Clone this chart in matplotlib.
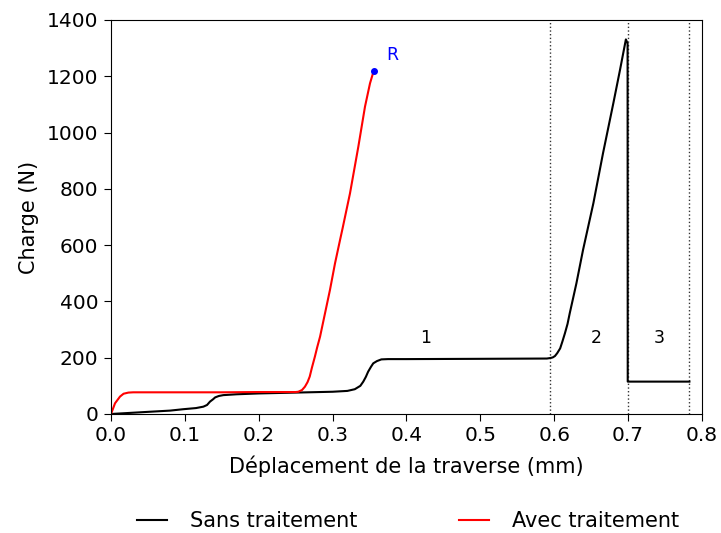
import matplotlib
matplotlib.use("Agg")
import matplotlib.pyplot as plt

# Data
x_sans = [0, 0.02, 0.053, 0.08, 0.098, 0.115, 0.125, 0.13, 0.134, 0.138, 0.141, 0.146,
          0.152, 0.17, 0.2, 0.25, 0.3, 0.32, 0.33, 0.3375, 0.3415, 0.345, 0.348, 0.352,
          0.355, 0.36, 0.366, 0.375, 0.4, 0.5, 0.59, 0.595, 0.598, 0.601, 0.604, 0.608,
          0.611, 0.6145, 0.618, 0.621, 0.625, 0.630, 0.639, 0.653, 0.666, 0.680, 0.689,
          0.697, 0.6993, 0.6995, 0.783]
y_sans = [0, 3, 8, 12, 17, 21, 26, 32, 44, 52, 59, 64,
          67, 70, 73, 76, 79, 82, 88, 100, 115, 132, 150, 168,
          180, 188, 194, 195, 195, 196, 197, 199, 201, 206, 216, 233,
          257, 287, 320, 358, 405, 464, 583, 749, 926, 1104, 1222,
          1331, 1317, 115, 115]

x_avec = [0, 0.0054, 0.0122, 0.017, 0.0235, 0.03, 0.05, 0.1, 0.15, 0.2, 0.25, 0.2535,
          0.2585, 0.2625, 0.266, 0.269, 0.272, 0.276, 0.279, 0.283, 0.2897, 0.2964,
          0.3032, 0.31, 0.3135, 0.3235, 0.3348, 0.3438, 0.3506, 0.3557]
y_avec = [0, 38, 62, 72, 76, 77, 77, 77, 77, 78, 78, 79,
          85, 97, 113, 133, 165, 204, 236, 275, 358, 441,
          535, 618, 660, 784, 950, 1092, 1175, 1220]

rupture = (0.3557, 1220)
zone_bounds = [0.594, 0.70, 0.783]
zone_labels = ["1", "2", "3"]
zone_label_x = [0.4264, 0.6565, 0.7418]
zone_label_y = 270

fig = plt.figure(figsize=(7.21, 5.33), dpi=100)
ax = fig.add_axes([0.154, 0.2233, 0.8196, 0.7392])

ax.plot(x_sans, y_sans, color="black", lw=1.5, label="Sans traitement")
ax.plot(x_avec, y_avec, color="red", lw=1.5, label="Avec traitement")
ax.plot([rupture[0]], [rupture[1]], "o", color="blue", ms=4)
ax.text(rupture[0] + 0.0175, rupture[1] + 25, "R", color="blue", fontsize=12.5,
        va="bottom", ha="left")

for xb in zone_bounds:
    ax.axvline(xb, color="black", ls=":", lw=1, alpha=0.8)
for lx, lab in zip(zone_label_x, zone_labels):
    ax.text(lx, zone_label_y, lab, fontsize=12.5, ha="center", va="center")

ax.set_xlim(0, 0.8)
ax.set_ylim(0, 1400)
ax.set_xticks([0.0, 0.1, 0.2, 0.3, 0.4, 0.5, 0.6, 0.7, 0.8])
ax.set_xticklabels(["0.0", "0.1", "0.2", "0.3", "0.4", "0.5", "0.6", "0.7", "0.8"])
ax.set_yticks(range(0, 1401, 200))
ax.tick_params(direction="out", labelsize=14.5, top=False, right=False, length=5, pad=4)
ax.set_xlabel("Déplacement de la traverse (mm)", fontsize=15, labelpad=7)
ax.set_ylabel("Charge (N)", fontsize=15, labelpad=6)

fig.legend(loc="center", bbox_to_anchor=(0.566, 0.022), ncol=2, frameon=False,
           fontsize=15, columnspacing=4.9, handlelength=1.45, handletextpad=1.1)

fig.savefig("out.png", dpi=100)
